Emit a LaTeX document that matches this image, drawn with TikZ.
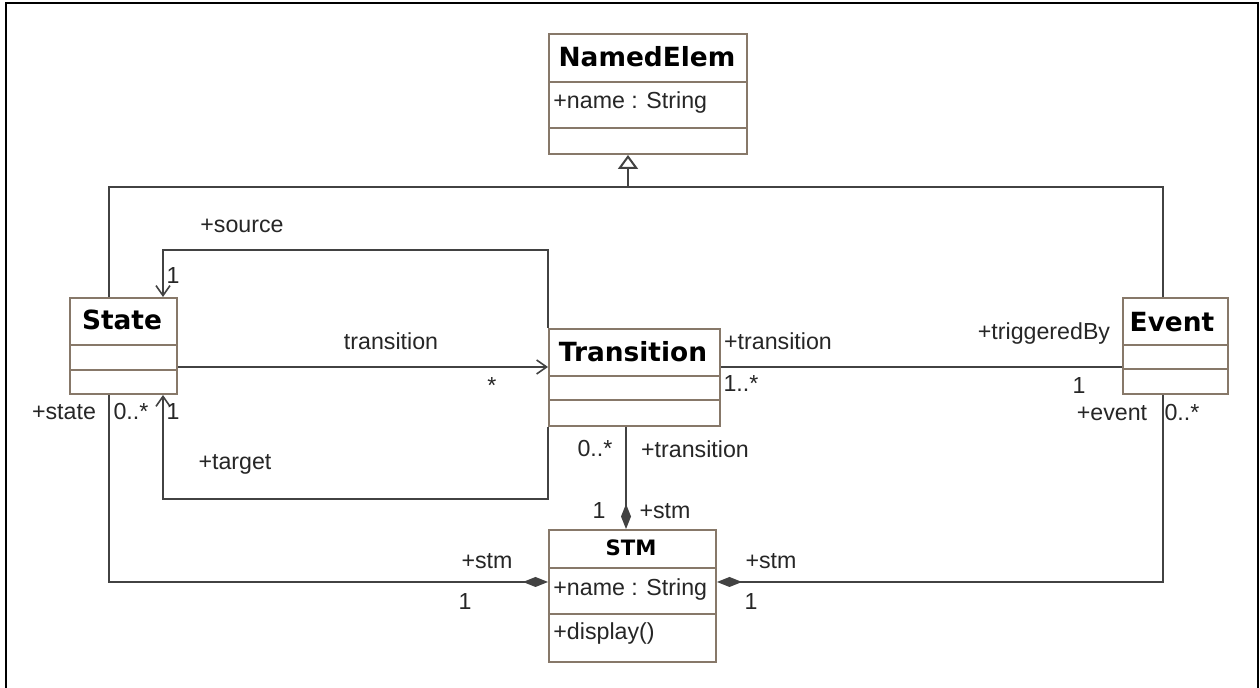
\documentclass[tikz,border=0pt]{standalone}
\usepackage{fontspec}
\setmainfont{Liberation Sans}
\newfontfamily\hdfont{DejaVu Sans}
\usetikzlibrary{arrows.meta,calc}
\definecolor{boxc}{RGB}{135,120,105}
\definecolor{linec}{RGB}{66,66,66}
\tikzset{
  cls/.style={draw=boxc, line width=1pt, inner sep=0pt, anchor=north west, fill=white},
  divider/.style={draw=boxc, line width=1pt},
  hd/.style={font=\hdfont\bfseries\fontsize{13.2}{15}\selectfont, inner sep=0pt},
  hdsmall/.style={font=\hdfont\bfseries\fontsize{10.6}{13}\selectfont, inner sep=0pt},
  attr/.style={font=\fontsize{11.6}{14}\selectfont, inner sep=0pt, anchor=west, text=black!85},
  lbl/.style={font=\fontsize{11.6}{14}\selectfont, inner sep=0pt, text=black!85},
  conn/.style={draw=linec, line width=1pt},
  nav/.style={conn, -{Straight Barb[length=5pt,width=7pt,line width=0.8pt]}},
  comp/.style={conn, -{Diamond[length=12.5pt,width=5pt,fill=linec]}},
  gen/.style={conn, -{Triangle[open,length=7pt,width=10pt,fill=white]}},
}
\begin{document}
\begin{tikzpicture}[x=0.5pt,y=-0.5pt]
\useasboundingbox (0,0) rectangle (1260,688);
\fill[white] (0,0) rectangle (1260,688);
\draw[line width=1.3pt] (6,688) -- (6,3) -- (1258,3) -- (1258,688);

% classes
\node[cls, minimum width=99pt, minimum height=60pt] (ne) at (548,33) {};
\node[cls, minimum width=53.5pt, minimum height=48pt] (st) at (69,297) {};
\node[cls, minimum width=85.5pt, minimum height=48.5pt] (tr) at (548,328) {};
\node[cls, minimum width=52.5pt, minimum height=48pt] (ev) at (1122,297) {};
\node[cls, minimum width=83.5pt, minimum height=66pt] (stm) at (548,529) {};

% dividers
\foreach \n/\a/\b in {ne/49/95, st/48/73, tr/48/72, ev/48/72, stm/39/85}{
  \draw[divider] ($(\n.north west)+(0,\a)$) -- ($(\n.north east)+(0,\a)$);
  \draw[divider] ($(\n.north west)+(0,\b)$) -- ($(\n.north east)+(0,\b)$);
}

% class texts
\node[hd] (neT) at (647,57) {NamedElem};
\node[attr] (neA) at (553,103) {+name : String};
\node[hd] (stT) at (122,320) {State};
\node[hd] (trT) at (633,352) {Transition};
\node[hd] (evT) at (1172,322) {Event};
\node[hdsmall] (stmT) at (631,548) {STM};
\node[attr] (stmA) at (553,590) {+name : String};
\node[attr] (stmO) at (553,634) {+display()};

% helper coordinates
\coordinate (gj) at (628,187);
\coordinate (tA) at ($(st.north east)+(0,70)$);
\coordinate (tB) at ($(tr.north east)+(0,39)$);
\coordinate (tC) at ($(tr.south west)+(78,0)$);

% generalization
\draw[conn] ($(st.north west)+(40,0)$) |- (gj) -| ($(ev.north west)+(41,0)$);
\draw[gen] (gj) -- (gj |- ne.south);

% source / target / transition
\draw[nav] (tr.north west) -- ++(0,-78) -| ($(st.north west)+(94,0)$);
\draw[nav] (tA) -- (tA -| tr.west);
\draw[nav] (tr.south west) -- ++(0,72) -| ($(st.south west)+(94,0)$);

% transition - event
\draw[conn] (tB) -- (tB -| ev.west);

% compositions
\draw[comp] (tC) -- (tC |- stm.north);
\draw[comp] ($(st.south west)+(40,0)$) |- ($(stm.north west)+(0,53)$);
\draw[comp] ($(ev.south west)+(41,0)$) |- ($(stm.north east)+(0,53)$);

% labels
\node[lbl] (l1) at (242,226) {+source};
\node[lbl] (l2) at (173,276) {1};
\node[lbl] (l3) at (64,412) {+state};
\node[lbl] (l4) at (131,412) {0..*};
\node[lbl] (l5) at (173,412) {1};
\node[lbl] (l6) at (391,341) {transition};
\node[lbl] (l7) at (492,386) {*};
\node[lbl] (l8) at (235,464) {+target};
\node[lbl] (l9) at (778,341) {+transition};
\node[lbl] (l10) at (741,384) {1..*};
\node[lbl] (l11) at (1044,334) {+triggeredBy};
\node[lbl] (l12) at (1079,386) {1};
\node[lbl] (l13) at (1112,413) {+event};
\node[lbl] (l14) at (1182,413) {0..*};
\node[lbl] (l15) at (595,449) {0..*};
\node[lbl] (l16) at (695,449) {+transition};
\node[lbl] (l17) at (599,511) {1};
\node[lbl] (l18) at (665,511) {+stm};
\node[lbl] (l19) at (487,561) {+stm};
\node[lbl] (l20) at (465,602) {1};
\node[lbl] (l21) at (771,561) {+stm};
\node[lbl] (l22) at (751,602) {1};
\end{tikzpicture}
\end{document}
